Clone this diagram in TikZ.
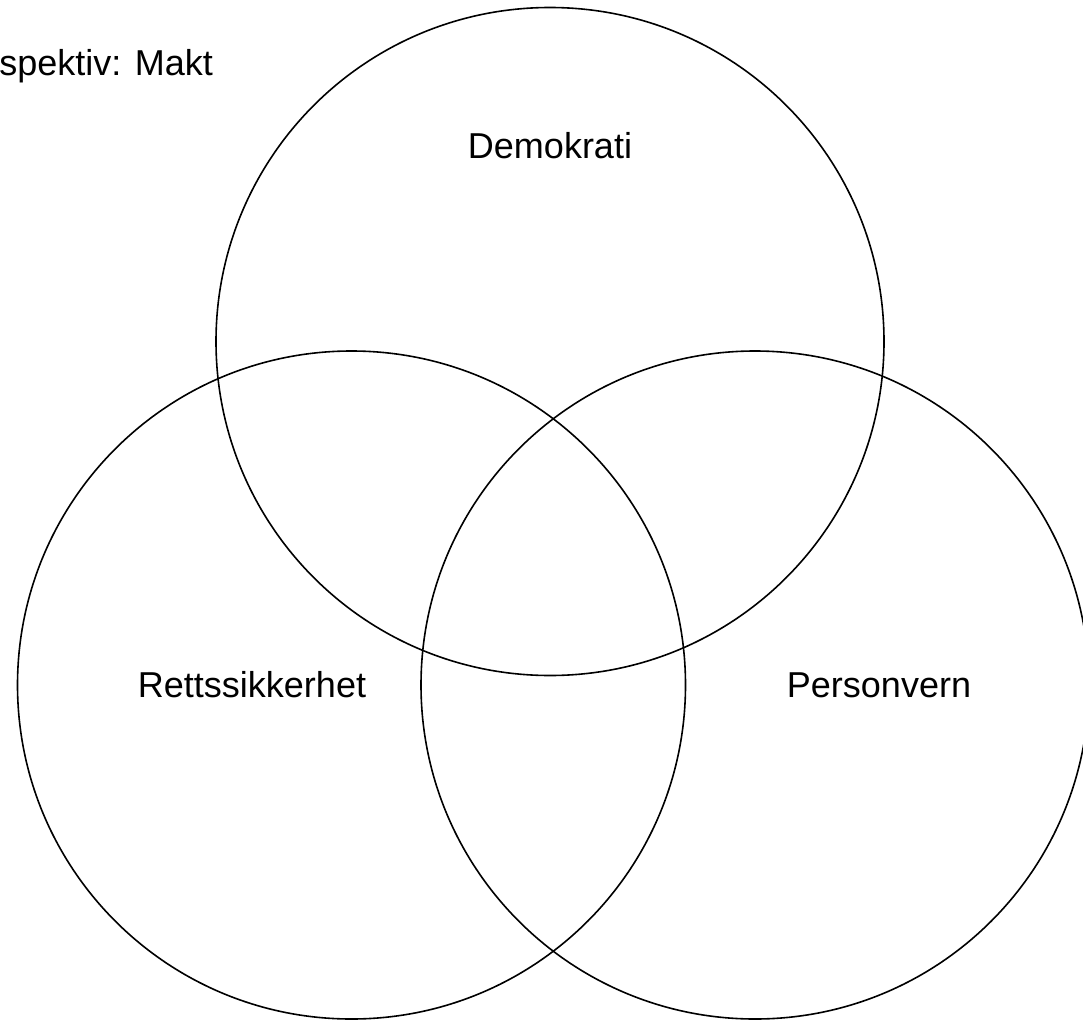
\documentclass[tikz,border=0pt]{standalone}
\usepackage{fontspec}
\setmainfont{Liberation Sans}
\begin{document}
\begin{tikzpicture}[x=1pt,y=-1pt,
  ring/.style={circle,draw=black,line width=1.6pt,minimum size=668pt,inner sep=0pt},
  lbl/.style={font=\fontsize{36}{43}\selectfont,inner sep=0pt,anchor=base}]
\useasboundingbox (0,0) rectangle (1083,1022);
\clip (0,0) rectangle (1083,1022);
\node[ring] (demo) at (550,341.5) {};
\node[ring] (rett) at (351.5,685) {};
\node[ring] (pers) at (755,685) {};
\node[lbl] (tdemo) at (550,158) {Demokrati};
\node[lbl] (trett) at (252,697) {Rettssikkerhet};
\node[lbl] (tpers) at (879,697) {Personvern};
\node[lbl,anchor=base east] (title) at (213,76) {Perspektiv: Makt};
\end{tikzpicture}
\end{document}
